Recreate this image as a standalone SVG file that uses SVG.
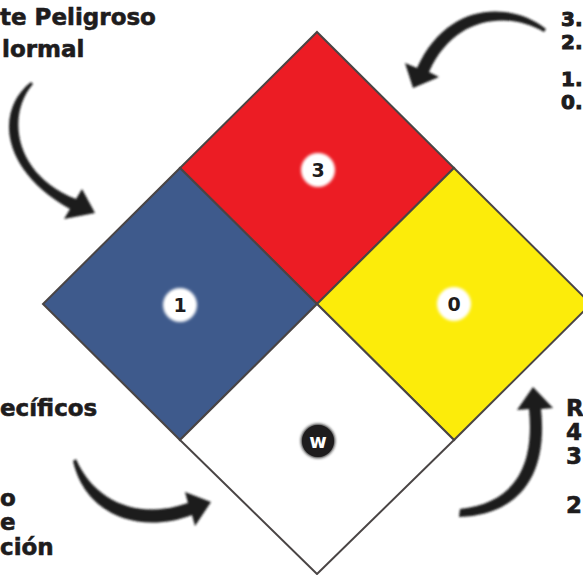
<svg xmlns="http://www.w3.org/2000/svg" width="583" height="575" viewBox="0 0 583 575">
<defs>
<style>
.t{font-family:"DejaVu Sans","Liberation Sans",sans-serif;font-weight:bold;font-size:23px;fill:#1e1c1d;stroke:#1e1c1d;stroke-width:0.6}
.tr{font-size:20px;stroke-width:1}
.d{stroke:#4a4545;stroke-width:2;stroke-linejoin:miter}
.num{font-family:"DejaVu Sans","Liberation Sans",sans-serif;font-weight:bold;font-size:19px;text-anchor:middle}
.arrow{fill:#1a1a1a}
</style>
<filter id="soft" x="-10%" y="-10%" width="120%" height="120%"><feGaussianBlur stdDeviation="0.8"/></filter>
<filter id="glow" x="-50%" y="-50%" width="200%" height="200%"><feGaussianBlur stdDeviation="1.5"/></filter>
</defs>
<rect width="583" height="575" fill="#ffffff"/>

<g id="diamond-red"><polygon class="d" points="317,32 454,168 317,304 180,168" fill="#ec1c24"/></g>
<g id="diamond-blue"><polygon class="d" points="180,168 317,304 180,440 43,304" fill="#3e5a8c"/></g>
<g id="diamond-yellow"><polygon class="d" points="454,168 591,304 454,440 317,304" fill="#fcec0a"/></g>
<g id="diamond-white"><polygon class="d" points="317,304 454,440 317,574 180,440" fill="#ffffff"/></g>

<g id="badge-3"><circle cx="318" cy="170" r="17" fill="#fff" filter="url(#glow)"/><circle cx="318" cy="170" r="14" fill="#fff"/><text class="num" x="318" y="177" fill="#1e1c1d">3</text></g>
<g id="badge-1"><circle cx="180" cy="305" r="17" fill="#fff" filter="url(#glow)"/><circle cx="180" cy="305" r="14" fill="#fff"/><text class="num" x="180" y="312" fill="#1e1c1d">1</text></g>
<g id="badge-0"><circle cx="454" cy="304" r="17" fill="#fff" filter="url(#glow)"/><circle cx="454" cy="304" r="14" fill="#fff"/><text class="num" x="454" y="311" fill="#1e1c1d">0</text></g>
<g id="badge-w"><circle cx="318" cy="441" r="17" fill="#1e1c1d" filter="url(#glow)"/><circle cx="318" cy="441" r="16" fill="#1e1c1d"/><text class="num" x="318" y="448" fill="#fff">w</text></g>

<g id="connectors" filter="url(#soft)">
<path class="arrow" d="M 31 82 C -5 110, 0 170, 70 209 L 64 219 L 95 213 L 82 189 L 76 199 C 14 175, 6 115, 33 84 Z"/>
<path class="arrow" d="M 546 29 C 512 2, 448 0, 417 68 L 405 63 L 413 88 L 439 77 L 429 72 C 455 14, 510 12, 544 32 Z"/>
<path class="arrow" d="M 73 461 C 85 515, 140 535, 192 515 L 195 526 L 211 502 L 185 492 L 188 503 C 140 520, 95 503, 76 459 Z"/>
<path class="arrow" d="M 459 517 C 520 515, 548 475, 541 409 L 553 408 L 533 387 L 517 410 L 529 409 C 535 470, 512 503, 460 509 Z"/>
</g>

<g id="legend-health">
<text class="t" x="0" y="25">te Peligroso</text>
<text class="t" x="2" y="57">lormal</text>
</g>
<g id="legend-flammability">
<text class="t tr" x="561" y="26">3.</text>
<text class="t tr" x="561" y="49">2.</text>
<text class="t tr" x="561" y="86">1.</text>
<text class="t tr" x="561" y="109">0.</text>
</g>
<g id="legend-special">
<text class="t" x="0" y="416">ecíficos</text>
<text class="t" x="0" y="506">o</text>
<text class="t" x="0" y="530">e</text>
<text class="t" x="0" y="555">ción</text>
</g>
<g id="legend-reactivity">
<text class="t" x="566" y="416">R</text>
<text class="t" x="566" y="440">4</text>
<text class="t" x="566" y="464">3</text>
<text class="t" x="566" y="513">2</text>
</g>
</svg>
